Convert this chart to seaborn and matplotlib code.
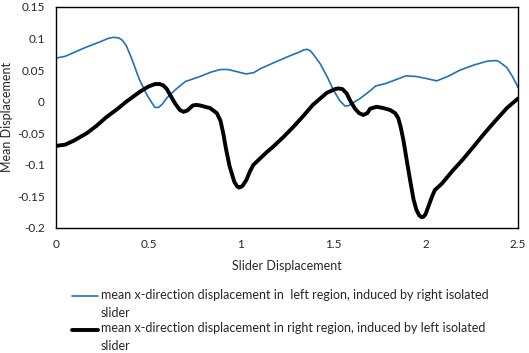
import numpy as np
import pandas as pd
import matplotlib
matplotlib.use('Agg')
import matplotlib.pyplot as plt
from matplotlib.legend_handler import HandlerLine2D
import seaborn as sns

# --- DATA ---
left_x = [0.0, 0.05, 0.09, 0.16, 0.24, 0.28, 0.31, 0.34, 0.36, 0.38, 0.41, 0.45, 0.49,
          0.515, 0.535, 0.555, 0.575, 0.6, 0.65, 0.7, 0.74, 0.78, 0.84, 0.89, 0.93,
          0.96, 1.0, 1.03, 1.07, 1.104, 1.18, 1.26, 1.32, 1.34, 1.357, 1.375, 1.39,
          1.43, 1.47, 1.5, 1.535, 1.564, 1.585, 1.6, 1.645, 1.69, 1.73, 1.786, 1.84,
          1.894, 1.948, 2.0, 2.06, 2.12, 2.186, 2.26, 2.33, 2.366, 2.385, 2.4, 2.44,
          2.47, 2.5]
left_y = [0.069, 0.072, 0.077, 0.086, 0.095, 0.100, 0.102, 0.101, 0.097, 0.089, 0.068,
          0.036, 0.012, 0.000, -0.009, -0.009, -0.004, 0.006, 0.020, 0.032, 0.036,
          0.040, 0.047, 0.051, 0.051, 0.049, 0.046, 0.044, 0.046, 0.052, 0.062, 0.072,
          0.079, 0.082, 0.083, 0.081, 0.076, 0.060, 0.038, 0.019, 0.002, -0.007,
          -0.006, -0.003, 0.005, 0.015, 0.025, 0.029, 0.035, 0.041, 0.040, 0.037,
          0.033, 0.040, 0.050, 0.058, 0.064, 0.065, 0.065, 0.063, 0.054, 0.040, 0.023]

right_x = [0.0, 0.05, 0.094, 0.166, 0.22, 0.27, 0.33, 0.38, 0.455, 0.5, 0.536, 0.56,
           0.58, 0.6, 0.617, 0.645, 0.67, 0.69, 0.71, 0.74, 0.76, 0.78, 0.833, 0.87,
           0.89, 0.905, 0.92, 0.94, 0.965, 0.98, 0.99, 1.0, 1.01, 1.03, 1.05, 1.068,
           1.104, 1.14, 1.176, 1.23, 1.284, 1.34, 1.39, 1.465, 1.51, 1.528, 1.55,
           1.573, 1.595, 1.618, 1.64, 1.663, 1.685, 1.7, 1.735, 1.77, 1.807, 1.835,
           1.852, 1.865, 1.88, 1.898, 1.916, 1.935, 1.95, 1.965, 1.979, 1.99, 2.0,
           2.015, 2.035, 2.05, 2.087, 2.15, 2.2, 2.26, 2.31, 2.366, 2.44, 2.5]
right_y = [-0.070, -0.068, -0.062, -0.050, -0.038, -0.025, -0.012, 0.000, 0.016, 0.024,
           0.028, 0.028, 0.026, 0.020, 0.011, -0.003, -0.013, -0.016, -0.014, -0.006,
           -0.005, -0.006, -0.010, -0.018, -0.030, -0.050, -0.075, -0.103, -0.127,
           -0.134, -0.136, -0.135, -0.133, -0.124, -0.110, -0.100, -0.090, -0.080,
           -0.071, -0.056, -0.040, -0.022, -0.005, 0.014, 0.020, 0.021, 0.020, 0.013,
           0.000, -0.011, -0.018, -0.021, -0.018, -0.011, -0.008, -0.010, -0.013,
           -0.018, -0.026, -0.040, -0.061, -0.093, -0.124, -0.155, -0.171, -0.180,
           -0.183, -0.182, -0.178, -0.166, -0.150, -0.140, -0.130, -0.108, -0.092,
           -0.071, -0.053, -0.034, -0.010, 0.005]

label_left = "mean x-direction displacement in  left region, induced by right isolated\nslider"
label_right = "mean x-direction displacement in right region, induced by left isolated\nslider"

df_left = pd.DataFrame({'x': left_x, 'y': left_y})
df_right = pd.DataFrame({'x': right_x, 'y': right_y})


# legend line sits next to the first text line (Excel style), not the middle
class HandlerFirstLine(HandlerLine2D):
    def create_artists(self, legend, orig_handle, xdescent, ydescent, width, height,
                       fontsize, trans):
        arts = super().create_artists(legend, orig_handle, xdescent, ydescent, width,
                                      height, fontsize, trans)
        for a in arts:
            a.set_ydata(np.asarray(a.get_ydata()) + 0.68 * fontsize)
        return arts


# --- PLOT ---
sns.set_style('white')
plt.rcParams['font.family'] = ['Lato', 'DejaVu Sans']

fig = plt.figure(figsize=(5.29, 3.53), dpi=100)
ax = fig.add_axes([56 / 529, 1 - 228 / 353, (518 - 56) / 529, (228 - 7) / 353])

sns.lineplot(data=df_left, x='x', y='y', ax=ax, color='#1f72b8', linewidth=1.2,
             label=label_left, sort=False)
sns.lineplot(data=df_right, x='x', y='y', ax=ax, color='black', linewidth=2.8,
             label=label_right, sort=False)

ax.set_xlim(0, 2.5)
ax.set_ylim(-0.2, 0.15)
ax.set_xticks([0, 0.5, 1, 1.5, 2, 2.5])
ax.set_xticklabels(['0', '0.5', '1', '1.5', '2', '2.5'])
ax.set_yticks([-0.2, -0.15, -0.1, -0.05, 0, 0.05, 0.1, 0.15])
ax.set_yticklabels(['-0.2', '-0.15', '-0.1', '-0.05', '0', '0.05', '0.1', '0.15'])
ax.tick_params(length=0, labelsize=8.5, pad=8)
for s in ax.spines.values():
    s.set_color('black')
    s.set_linewidth(1)
ax.set_xlabel('Slider Displacement', fontsize=9, labelpad=7)
ax.set_ylabel('Mean Displacement', fontsize=9, labelpad=3)
ax.yaxis.set_label_coords(-43 / 462, 0.5)

handles, labels = ax.get_legend_handles_labels()
ax.get_legend().remove()
leg = fig.legend(handles, labels, loc='upper left', bbox_to_anchor=(72 / 529, 1 - 289 / 353),
                 frameon=False, fontsize=9, handlelength=2.1, handletextpad=0.2,
                 labelspacing=0.28, borderaxespad=0, borderpad=0,
                 handler_map={h: HandlerFirstLine() for h in handles})
for t in leg.get_texts():
    t.set_linespacing(1.6)

fig.savefig('out.png', dpi=100)
